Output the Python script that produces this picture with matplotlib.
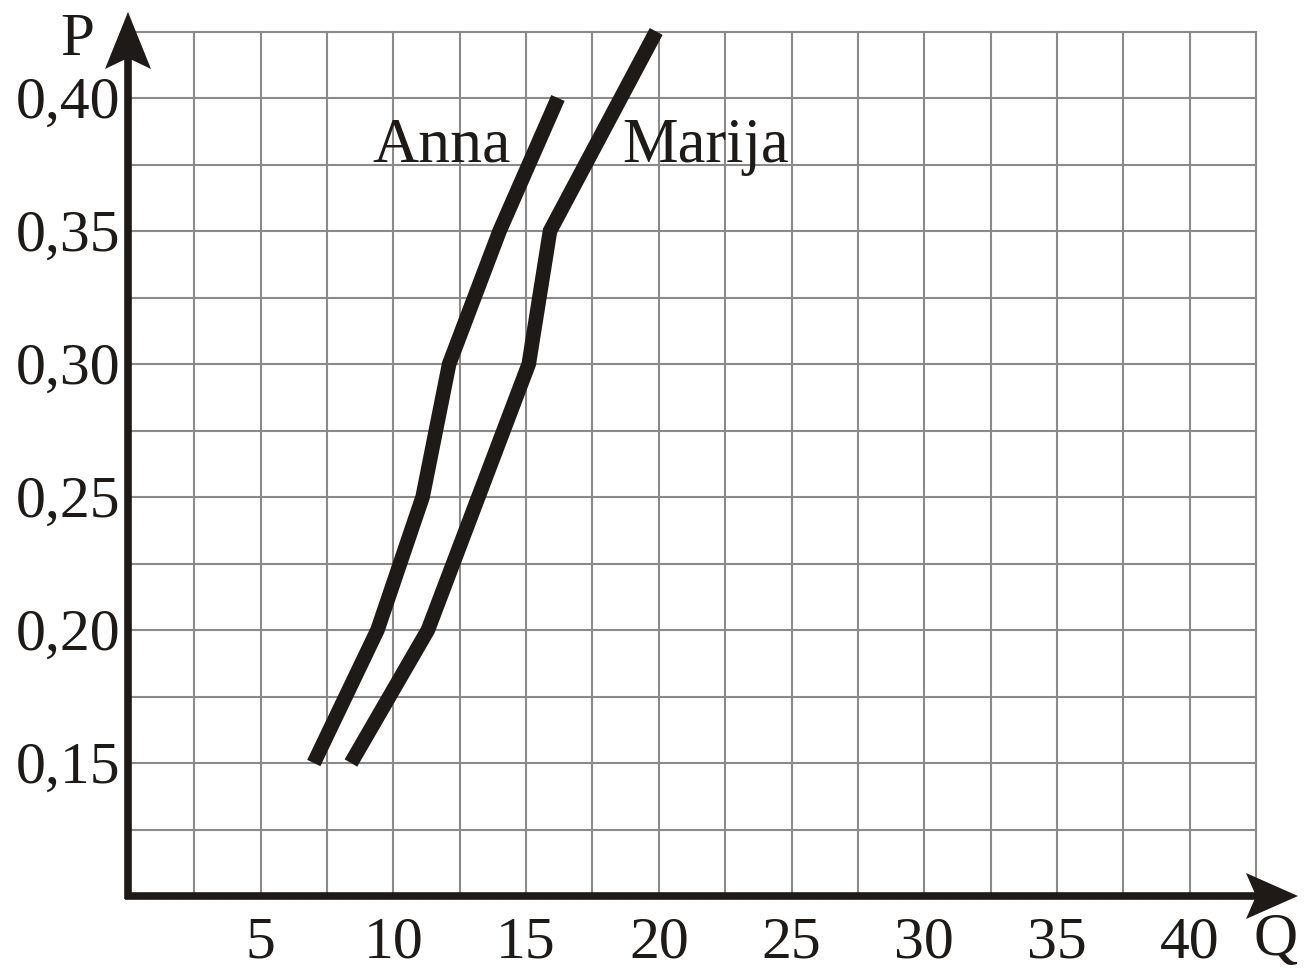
import numpy as np
import matplotlib
matplotlib.use("Agg")
import matplotlib.pyplot as plt
from matplotlib.patches import Polygon

# Datos
precios = [0.15, 0.20, 0.25, 0.30, 0.35, 0.40]
q_anna = [7.0, 9.4, 11.1, 12.1, 14.0, 16.2]

precios_marija = [0.15, 0.20, 0.25, 0.30, 0.35, 0.425]
q_marija = [8.4, 11.3, 13.2, 15.1, 15.9, 19.9]

x_ticks = [5, 10, 15, 20, 25, 30, 35, 40]
x_labels = ["5", "10", "15", "20", "25", "30", "35", "40"]
y_ticks = [0.15, 0.20, 0.25, 0.30, 0.35, 0.40]
y_labels = ["0,15", "0,20", "0,25", "0,30", "0,35", "0,40"]

plt.rcParams['font.family'] = ['Liberation Serif', 'DejaVu Serif']

negro = '#1e1a17'
gris = '#8a8a8a'

# escala en pixeles
sx = 1128 / 42.5
sy = 133 / 0.05

fig = plt.figure(figsize=(13.06, 9.76), dpi=100)
ax = fig.add_axes([0, 0, 1, 1])
ax.axis('off')
ax.set_xlim(-128 / sx, (1306 - 128) / sx)
ax.set_ylim(0.40 - (976 - 98) / sy, 0.40 + 98 / sy)

# cuadricula
for q in np.arange(2.5, 42.6, 2.5):
    ax.plot([q, q], [0.10, 0.425], color=gris, lw=1.5, zorder=1)
for p in np.arange(0.125, 0.426, 0.025):
    ax.plot([0, 42.5], [p, p], color=gris, lw=1.5, zorder=1)

# ejes con flechas
x_tip = (1298 - 128) / sx
y_tip = 0.40 + (98 - 12) / sy
ax.plot([0, 0], [0.10 - 3 / sy, y_tip - 40 / sy], color=negro, lw=5.5, zorder=3,
        solid_capstyle='butt')
ax.plot([-3 / sx, x_tip - 40 / sx], [0.10, 0.10], color=negro, lw=5.5, zorder=3,
        solid_capstyle='butt')

punta_y = [(0, y_tip), (23 / sx, y_tip - 57 / sy), (0, y_tip - 46 / sy),
           (-23 / sx, y_tip - 57 / sy)]
punta_x = [(x_tip, 0.10), (x_tip - 52 / sx, 0.10 + 23 / sy),
           (x_tip - 42 / sx, 0.10), (x_tip - 52 / sx, 0.10 - 23 / sy)]
ax.add_patch(Polygon(punta_y, closed=True, color=negro, zorder=4, lw=0))
ax.add_patch(Polygon(punta_x, closed=True, color=negro, zorder=4, lw=0))

# curvas
ax.plot(q_anna, precios, color=negro, lw=10.5, solid_capstyle='butt',
        solid_joinstyle='miter', zorder=5)
ax.plot(q_marija, precios_marija, color=negro, lw=10.5, solid_capstyle='butt',
        solid_joinstyle='miter', zorder=5)

# etiquetas de los ejes
for q, lab in zip(x_ticks, x_labels):
    ax.text(q, 0.40 - (957 - 98) / sy, lab, ha='center', va='baseline',
            fontsize=43, color=negro)
for p, lab in zip(y_ticks, y_labels):
    ax.text(-8 / sx, p - 20 / sy, lab, ha='right', va='baseline',
            fontsize=43, color=negro)

ax.text(-51 / sx, 0.40 + (98 - 55) / sy, "P", ha='center', va='baseline',
        fontsize=44, color=negro)
ax.text((1276 - 128) / sx, 0.40 - (955 - 98) / sy, "Q", ha='center', va='baseline',
        fontsize=44, color=negro)

ax.text((372 - 128) / sx, 0.40 - (162 - 98) / sy, "Anna", ha='left', va='baseline',
        fontsize=46, color=negro)
ax.text((622 - 128) / sx, 0.40 - (162 - 98) / sy, "Marija", ha='left', va='baseline',
        fontsize=45, color=negro)

fig.savefig("out.png", dpi=100, facecolor='white')
